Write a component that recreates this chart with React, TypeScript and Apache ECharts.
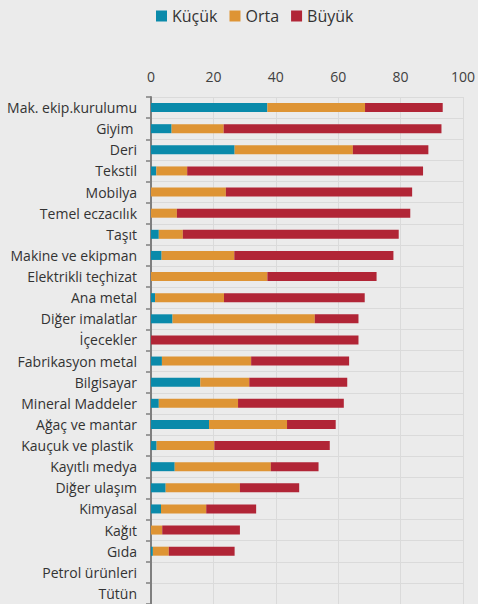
import React, { useEffect, useRef } from "react";
import * as echarts from "echarts";

const categories = [
  "Mak. ekip.kurulumu", "Giyim ", "Deri", "Tekstil", "Mobilya", "Temel eczacılık",
  "Taşıt", "Makine ve ekipman", "Elektrikli teçhizat", "Ana metal", "Diğer imalatlar",
  "İçecekler", "Fabrikasyon metal", "Bilgisayar", "Mineral Maddeler", "Ağaç ve mantar",
  "Kauçuk ve plastik ", "Kayıtlı medya", "Diğer ulaşım", "Kimyasal", "Kağıt", "Gıda",
  "Petrol ürünleri", "Tütün",
];
const kucuk = [37.3, 6.6, 26.8, 1.7, 0, 0, 2.5, 3.4, 0, 1.3, 6.9, 0, 3.5, 15.8, 2.5, 18.6, 1.8, 7.6, 4.7, 3.2, 0, 0.6, 0, 0];
const orta = [31.3, 16.7, 37.9, 9.9, 24.0, 8.3, 7.7, 23.3, 37.3, 22.1, 45.6, 0, 28.6, 15.7, 25.4, 25.0, 18.5, 30.8, 23.8, 14.5, 3.6, 5.1, 0, 0];
const buyuk = [24.9, 69.8, 24.2, 75.6, 59.7, 74.8, 69.2, 51.0, 35.0, 45.1, 14.0, 66.5, 31.4, 31.4, 33.9, 15.6, 37.0, 15.3, 19.0, 16.0, 24.9, 21.1, 0, 0];
const seriesNames = ["Küçük", "Orta", "Büyük"];
const colors = ["#0a8aaa", "#de9434", "#b12536"];
const xTicks = [0, 20, 40, 60, 80, 100];

const FONT = "'Open Sans', sans-serif";

export default function App() {
  const ref = useRef<HTMLDivElement>(null);
  useEffect(() => {
    if (!ref.current) return;
    const chart = echarts.init(ref.current, undefined, { renderer: "svg" });
    const data = [kucuk, orta, buyuk];
    chart.setOption({
      animation: false,
      backgroundColor: "#ebebeb",
      color: colors,
      textStyle: { fontFamily: FONT },
      legend: {
        top: 3,
        left: 151,
        itemWidth: 11,
        itemHeight: 11,
        itemGap: 12,
        itemTextGap: 4,
        icon: "rect",
        textStyle: { fontSize: 16, color: "#333", fontFamily: FONT },
        data: seriesNames,
      },
      grid: { left: 151, right: 11, top: 97, height: 509, containLabel: false },
      xAxis: {
        type: "value",
        position: "top",
        min: xTicks[0],
        max: xTicks[xTicks.length - 1],
        interval: 20,
        axisLine: { show: false },
        axisTick: { show: false },
        axisLabel: { color: "#404040", fontSize: 14, margin: 14, fontFamily: FONT },
        splitLine: { show: true, lineStyle: { color: "#dadada", width: 1 } },
      },
      yAxis: {
        type: "category",
        inverse: true,
        data: categories,
        axisLine: { show: true, lineStyle: { color: "#7f7f7f", width: 2 } },
        axisTick: { show: true, length: 5, lineStyle: { color: "#7f7f7f", width: 1.5 } },
        axisLabel: { color: "#333", fontSize: 14, margin: 14, fontFamily: FONT },
        splitLine: { show: true, lineStyle: { color: "#dadada", width: 1 } },
      },
      series: seriesNames.map((name, i) => ({
        name,
        type: "bar",
        stack: "total",
        barWidth: 9,
        data: data[i],
        itemStyle: { color: colors[i] },
      })),
    });
    return () => chart.dispose();
  }, []);
  return <div ref={ref} style={{ width: 478, height: 604, position: "absolute", left: 0, top: 0 }} />;
}
